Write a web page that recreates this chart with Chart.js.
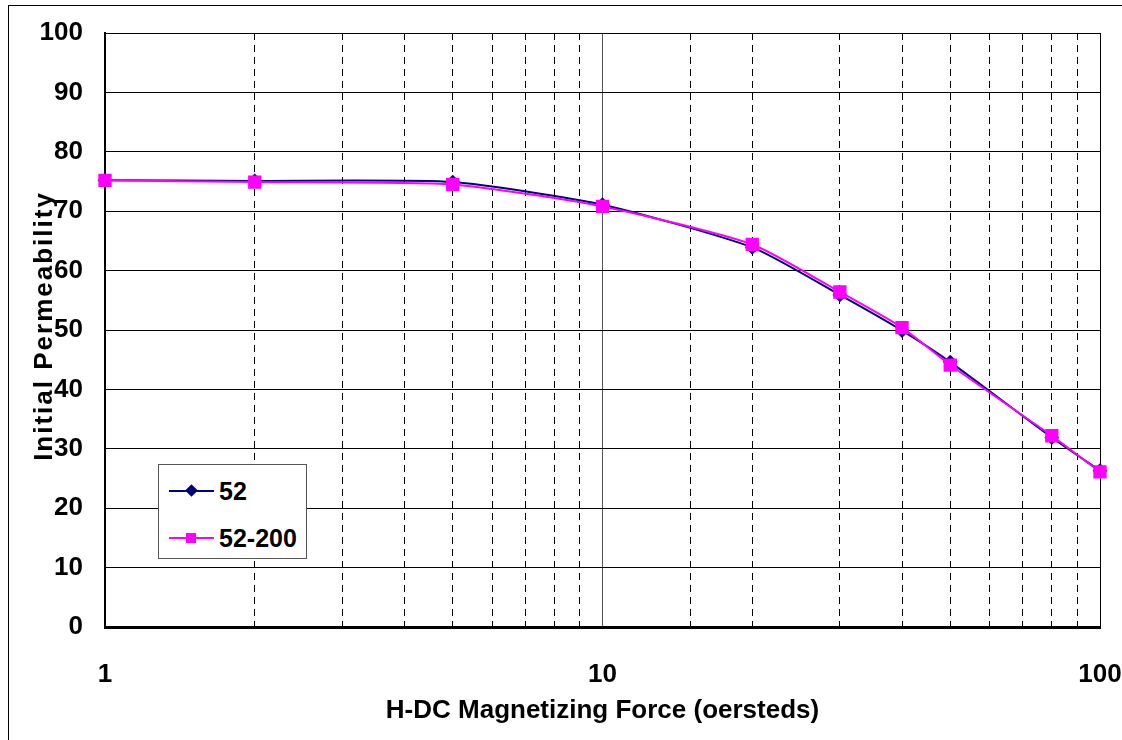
<!DOCTYPE html>
<html>
<head>
<meta charset="utf-8">
<title>Initial Permeability vs H-DC</title>
<script src="https://cdn.jsdelivr.net/npm/chart.js@4.4.1/dist/chart.umd.min.js"></script>
<style>
  html, body { margin: 0; padding: 0; background: #fff; }
  #wrap { position: relative; width: 1122px; height: 740px; overflow: hidden; }
  #frame { position: absolute; left: 8px; top: 5px; width: 1300px; height: 900px;
           border-left: 1px solid #000; border-top: 1px solid #000; }
  #chart { position: absolute; left: 0; top: 0; }
  #legend { position: absolute; left: 158px; top: 464px; width: 149px; height: 95px;
            border: 1px solid #555; background: #fff; box-sizing: border-box;
            font: bold 25px 'Liberation Sans', Arial, sans-serif; color: #000; }
  .item { position: absolute; left: 0; height: 30px; width: 100%; }
  .item .line { position: absolute; left: 10px; top: 14px; width: 45px; height: 2px; }
  .item .mark { position: absolute; }
  .item .lbl { position: absolute; left: 60px; top: 0; line-height: 30px; }
</style>
</head>
<body>
<div id="wrap">
  <div id="frame"></div>
  <canvas id="chart" width="1122" height="740"></canvas>
  <div id="legend"></div>
</div>
<script>
// H-DC magnetizing force (oersteds)
const hValues = [1, 2, 5, 10, 20, 30, 40, 50, 80, 100];
// initial permeability
const perm52 = [75.2, 75.1, 74.9, 71.1, 63.9, 55.9, 49.9, 44.6, 31.9, 26.3];
const perm52_200 = [75.2, 74.9, 74.5, 70.8, 64.4, 56.4, 50.4, 44.1, 32.2, 26.1];
const seriesNames = ['52', '52-200'];
const seriesColors = ['#000080', '#FF00FF'];
const xLabelTicks = [1, 10, 100];
const yMin = 0, yMax = 100, yStep = 10;
const yTitle = 'Initial Permeability';

const FONT = "'Liberation Sans', Arial, sans-serif";

function isMajor(v) {
  return xLabelTicks.includes(v);
}

function toPoints(vals) {
  return hValues.map((h, i) => ({ x: h, y: vals[i] }));
}

// y axis title with a bit of letter spacing, like the original
const yTitlePlugin = {
  id: 'yTitle',
  afterDraw(chart) {
    const c = chart.ctx;
    const area = chart.chartArea;
    c.save();
    c.font = 'bold 26px ' + FONT;
    c.fillStyle = '#000';
    c.letterSpacing = '2px';
    c.textAlign = 'center';
    c.textBaseline = 'middle';
    c.translate(45, (area.top + area.bottom) / 2 - 4);
    c.rotate(-Math.PI / 2);
    c.fillText(yTitle, 0, 0);
    c.restore();
  }
};

const ctx = document.getElementById('chart').getContext('2d');

const chart = new Chart(ctx, {
  type: 'line',
  data: {
    datasets: [
      {
        label: seriesNames[0],
        data: toPoints(perm52),
        borderColor: seriesColors[0],
        backgroundColor: seriesColors[0],
        borderWidth: 2,
        pointStyle: 'rectRot',
        pointRadius: 6,
        tension: 0.2,
        clip: false,
        order: 1
      },
      {
        label: seriesNames[1],
        data: toPoints(perm52_200),
        borderColor: seriesColors[1],
        backgroundColor: seriesColors[1],
        borderWidth: 2,
        pointStyle: 'rect',
        pointRadius: 8,
        tension: 0.2,
        clip: false,
        order: 0
      }
    ]
  },
  plugins: [yTitlePlugin],
  options: {
    responsive: false,
    animation: false,
    layout: { padding: { top: 33, right: 22, left: 10, bottom: 14 } },
    plugins: {
      legend: { display: false },
      tooltip: { enabled: false }
    },
    scales: {
      x: {
        type: 'logarithmic',
        position: 'bottom',
        min: 1,
        max: 100,
        afterFit: (scale) => {
          scale.height = 740 - 627 - 14;
          scale.paddingLeft = 0;
          scale.paddingRight = 0;
        },
        ticks: {
          autoSkip: false,
          maxRotation: 0,
          padding: 32,
          color: '#000',
          font: { family: FONT, size: 26, weight: 'bold' },
          callback: (v) => isMajor(v) ? String(v) : ''
        },
        grid: {
          drawTicks: false,
          lineWidth: 1,
          color: (c) => (c.tick && c.tick.value === 10) ? '#555' : '#000'
        },
        border: {
          color: '#000',
          width: 3,
          dash: (c) => (c.tick && !isMajor(c.tick.value)) ? [7, 5] : []
        },
        title: {
          display: true,
          text: 'H-DC Magnetizing Force (oersteds)',
          color: '#000',
          padding: { top: 0, bottom: 0 },
          font: { family: FONT, size: 26, weight: 'bold' }
        }
      },
      y: {
        min: yMin,
        max: yMax,
        afterFit: (scale) => {
          scale.width = 105 - 10;
          scale.paddingTop = 0;
          scale.paddingBottom = 0;
        },
        ticks: {
          stepSize: yStep,
          padding: 22,
          color: '#000',
          font: { family: FONT, size: 26, weight: 'bold' }
        },
        grid: { drawTicks: false, lineWidth: 1, color: '#000' },
        border: { color: '#000', width: 2 }
      }
    }
  }
});

// legend box drawn as html
const legend = document.getElementById('legend');
seriesNames.forEach((name, i) => {
  const item = document.createElement('div');
  item.className = 'item';
  item.style.top = (i === 0 ? 11 : 58) + 'px';
  const line = document.createElement('div');
  line.className = 'line';
  line.style.background = seriesColors[i];
  const mark = document.createElement('div');
  mark.className = 'mark';
  mark.style.background = seriesColors[i];
  if (i === 0) {
    mark.style.width = '9px'; mark.style.height = '9px';
    mark.style.left = '28px'; mark.style.top = '10px';
    mark.style.transform = 'rotate(45deg)';
  } else {
    mark.style.width = '10px'; mark.style.height = '10px';
    mark.style.left = '27px'; mark.style.top = '10px';
  }
  const lbl = document.createElement('div');
  lbl.className = 'lbl';
  lbl.textContent = name;
  item.appendChild(line);
  item.appendChild(mark);
  item.appendChild(lbl);
  legend.appendChild(item);
});
</script>
</body>
</html>
